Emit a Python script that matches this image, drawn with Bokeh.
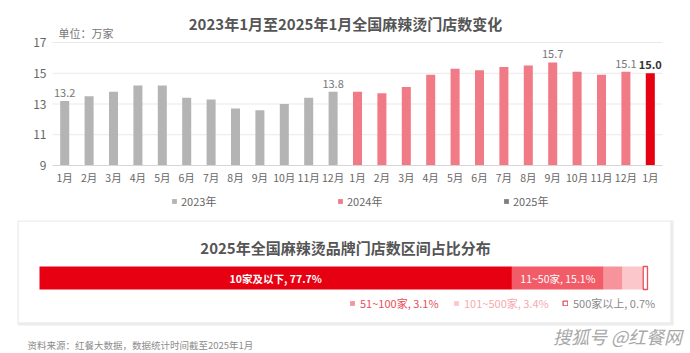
import numpy as np
from bokeh.plotting import figure
from bokeh.models import (Range1d, FixedTicker, Label, Legend, LegendItem,
                          LinearAxis, BoxAnnotation)
from bokeh.embed import file_html
from bokeh.resources import INLINE
from bokeh.core.properties import value

FONT = "Noto Sans CJK SC"

# ---------------- data ----------------
months = ["1月", "2月", "3月", "4月", "5月", "6月", "7月", "8月", "9月", "10月", "11月", "12月"]
years = ["2023年", "2024年", "2025年"]
v2023 = [13.2, 13.5, 13.8, 14.2, 14.2, 13.4, 13.3, 12.7, 12.6, 13.0, 13.4, 13.8]
v2024 = [13.8, 13.7, 14.1, 14.9, 15.3, 15.2, 15.4, 15.5, 15.7, 15.1, 14.9, 15.1]
v2025 = [15.0]
y_ticks = [9, 11, 13, 15, 17]
labeled_idx = [0, 11, 20, 23]      # plain value labels
bold_idx = [24]                    # bold value label

seg_names = ["10家及以下", "11~50家", "51~100家", "101~500家", "500家以上"]
seg_share = [77.7, 15.1, 3.1, 3.4, 0.7]

title1 = "2023年1月至2025年1月全国麻辣烫门店数变化"
unit_text = "单位：万家"
title2 = "2025年全国麻辣烫品牌门店数区间占比分布"
source_text = "资料来源：红餐大数据，数据统计时间截至2025年1月"
watermark = "搜狐号 @红餐网"

# ---------------- layout (pixels) ----------------
W, H = 690, 353
L1, R1, T1, B1 = 52, 662, 42, 165          # top chart area
BL, BR, BC, BH = 39, 647, 277.5, 23        # bottom bar: left, right, centre y, height

all_vals = v2023 + v2024 + v2025
n = len(all_vals)
ymin, ymax = y_ticks[0], y_ticks[-1]
xpx = (R1 - L1) / n
ypx = (B1 - T1) / (ymax - ymin)
x_range = Range1d(-0.5 - L1 / xpx, n - 0.5 + (W - R1) / xpx)
y_range = Range1d(ymin - (H - B1) / ypx, ymax + T1 / ypx)

bpx = (BR - BL) / 100.0
bx = Range1d(-BL / bpx, 100 + (W - BR) / bpx)
by = Range1d(-(H - BC) / BH, BC / BH)

p = figure(width=W, height=H, x_range=x_range, y_range=y_range,
           output_backend="svg", toolbar_location=None,
           x_axis_location=None, y_axis_location=None,
           min_border_left=0, min_border_right=0, min_border_top=0, min_border_bottom=0)
p.title.visible = False
p.outline_line_color = None
p.grid.visible = False
p.background_fill_color = "white"
p.border_fill_color = "white"
p.extra_x_ranges = {"bx": bx}
p.extra_y_ranges = {"by": by}

# ---------------- top chart ----------------
x23 = list(range(0, 12))
x24 = list(range(12, 24))
x25 = [24]
tick_labels = months + months + ["1月"]

grid_vals = y_ticks[1:]
p.segment(x0=[-0.5] * len(grid_vals), x1=[n - 0.5] * len(grid_vals), y0=grid_vals, y1=grid_vals,
          line_color="#e9e9e9", line_width=1)

BW = 0.37
r23 = p.vbar(x=x23, top=v2023, bottom=ymin, width=BW, fill_color="#b4b4b4", line_color=None)
r24 = p.vbar(x=x24, top=v2024, bottom=ymin, width=BW, fill_color="#f07b86", line_color=None)
r25 = p.vbar(x=x25, top=v2025, bottom=ymin, width=BW, fill_color="#e60012", line_color=None)
# legend swatch for 2025 (grey in the original legend); zero width so it is not drawn in the plot
r25_leg = p.vbar(x=x25, top=v2025, bottom=ymin, width=0, fill_color="#7f7f7f", line_color=None)

p.text(x=labeled_idx, y=[all_vals[i] for i in labeled_idx],
       text=[f"{all_vals[i]:.1f}" for i in labeled_idx],
       text_align="center", text_baseline="bottom", y_offset=-4,
       text_font=value(FONT), text_font_size="11px", text_color="#777777")
p.text(x=bold_idx, y=[all_vals[i] for i in bold_idx],
       text=[f"{all_vals[i]:.1f}" for i in bold_idx],
       text_align="center", text_baseline="bottom", y_offset=-4,
       text_font=value(FONT), text_font_size="11px", text_font_style="bold", text_color="#333333")

yax = LinearAxis(fixed_location=-0.5, bounds=(ymin, ymax), ticker=FixedTicker(ticks=y_ticks))
xax = LinearAxis(fixed_location=ymin, bounds=(-0.5, n - 0.5), ticker=FixedTicker(ticks=list(range(n))),
                 major_label_overrides={i: lab for i, lab in enumerate(tick_labels)})
for ax in (xax, yax):
    ax.major_label_text_font = FONT
    ax.major_label_text_color = "#666666"
    ax.major_tick_line_color = None
    ax.minor_tick_line_color = None
    ax.major_tick_out = 0
    ax.major_tick_in = 0
    ax.minor_tick_out = 0
    ax.major_label_standoff = 6
xax.major_label_standoff = 4
yax.major_label_text_font_size = "12px"
xax.major_label_text_font_size = "10.5px"
yax.axis_line_color = None
xax.axis_line_color = "#d6d6d6"
p.add_layout(yax, "left")
p.add_layout(xax, "below")

year_rs = [r23, r24, r25_leg]
year_x = [171, 337, 503]
for k in range(3):
    lg = Legend(items=[LegendItem(label=years[k], renderers=[year_rs[k]])],
                orientation="horizontal", location=(year_x[k], H - 209),
                glyph_width=6, glyph_height=6, label_standoff=4,
                label_height=14, padding=0, margin=0,
                border_line_color=None, background_fill_alpha=0,
                label_text_font=FONT, label_text_font_size="11px", label_text_color="#666666")
    p.add_layout(lg)

p.add_layout(Label(x=345, y=23, x_units="canvas", y_units="canvas", text=title1,
                   text_align="center", text_baseline="middle", text_font=FONT,
                   text_font_size="15px", text_font_style="bold", text_color="#555555"))
p.add_layout(Label(x=58, y=32, x_units="canvas", y_units="canvas", text=unit_text,
                   text_align="left", text_baseline="middle", text_font=FONT,
                   text_font_size="11px", text_color="#777777"))

# ---------------- bottom card ----------------
p.add_layout(BoxAnnotation(left=17, right=673, top=220, bottom=325,
                           left_units="canvas", right_units="canvas",
                           top_units="canvas", bottom_units="canvas",
                           fill_color="#ececec", fill_alpha=1, line_color=None, level="underlay"))
p.add_layout(BoxAnnotation(left=18, right=670, top=221, bottom=322,
                           left_units="canvas", right_units="canvas",
                           top_units="canvas", bottom_units="canvas",
                           fill_color="white", fill_alpha=1, line_color="#e4e4e4",
                           line_width=1, level="underlay"))

rights = np.cumsum(seg_share)
lefts = rights - np.array(seg_share)
seg_fill = ["#e60012", "#f25c69", "#f6939b", "#fbc7cb", "white"]
seg_line = [None, None, None, None, "#e8505b"]
seg_r = []
for l, r, fc, lc in zip(lefts, rights, seg_fill, seg_line):
    seg_r.append(p.hbar(y=[0], left=[l], right=[r], height=1, fill_color=fc,
                        line_color=lc, line_width=1.3, x_range_name="bx", y_range_name="by"))

mids = (lefts + rights) / 2
p.text(x=[mids[0]], y=[0], text=[f"{seg_names[0]}, {seg_share[0]}%"],
       text_align="center", text_baseline="middle", text_font=value(FONT),
       text_font_size="10.5px", text_font_style="bold", text_color="white",
       x_range_name="bx", y_range_name="by")
p.text(x=[mids[1]], y=[0], text=[f"{seg_names[1]}, {seg_share[1]}%"],
       text_align="center", text_baseline="middle", text_font=value(FONT),
       text_font_size="10.5px", text_color="white",
       x_range_name="bx", y_range_name="by")

leg_colors = ["#e8505b", "#f5aab0", "#8a8a8a"]
leg_x = [349, 453, 562]
for k in range(3):
    i = k + 2
    lg = Legend(items=[LegendItem(label=f"{seg_names[i]}, {seg_share[i]}%", renderers=[seg_r[i]])],
                orientation="horizontal", location=(leg_x[k], H - 311),
                glyph_width=6, glyph_height=6, label_standoff=5, label_height=14,
                padding=0, margin=0, border_line_color=None, background_fill_alpha=0,
                label_text_font=FONT, label_text_font_size="11px", label_text_color=leg_colors[k])
    p.add_layout(lg)

p.add_layout(Label(x=345, y=247, x_units="canvas", y_units="canvas", text=title2,
                   text_align="center", text_baseline="middle", text_font=FONT,
                   text_font_size="15px", text_font_style="bold", text_color="#555555"))
p.add_layout(Label(x=27, y=344, x_units="canvas", y_units="canvas", text=source_text,
                   text_align="left", text_baseline="middle", text_font=FONT,
                   text_font_size="9.5px", text_color="#8c8c8c"))
p.add_layout(Label(x=617, y=335, x_units="canvas", y_units="canvas", text=watermark,
                   text_align="center", text_baseline="middle", text_font=FONT,
                   text_font_size="18px", text_font_style="italic", text_color="#a8a8a8"))

open("out.html", "w").write(file_html(p, INLINE))
